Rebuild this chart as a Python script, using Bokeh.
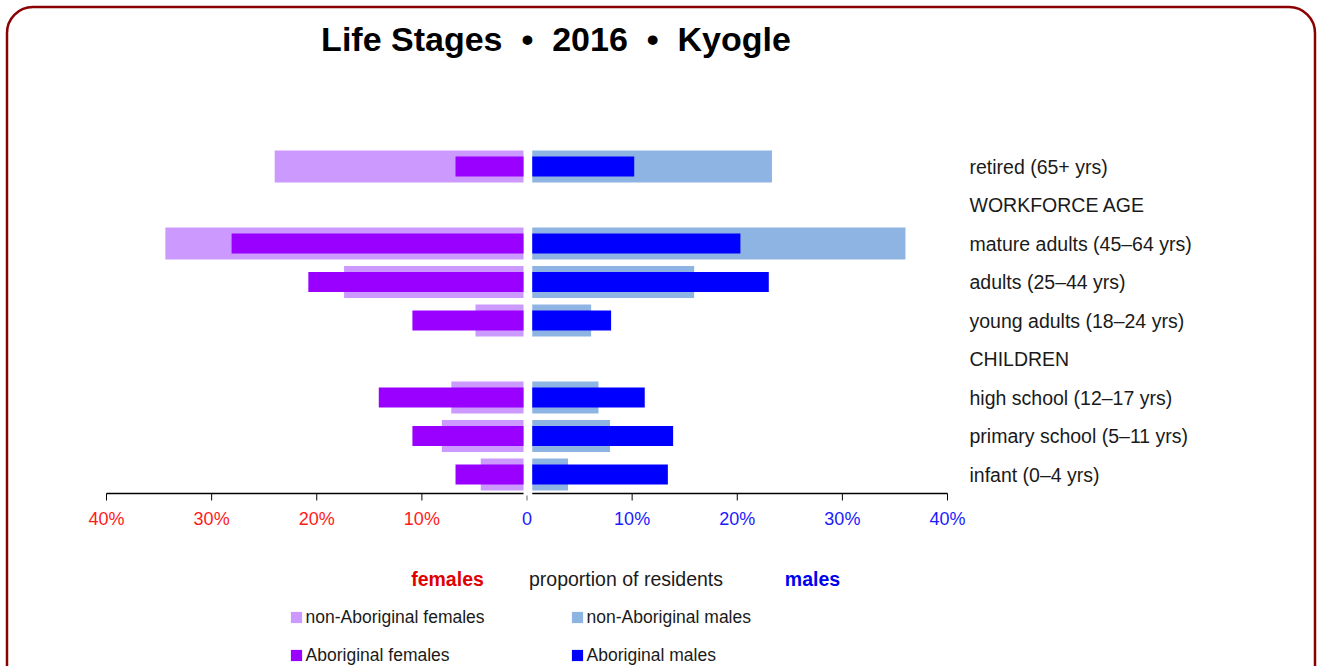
from bokeh.plotting import figure
from bokeh.models import ColumnDataSource, Range1d, Legend, LegendItem
from bokeh.core.properties import value
from bokeh.embed import file_html
from bokeh.resources import INLINE

# ---------------- data ----------------
categories = ["retired (65+ yrs)", "WORKFORCE AGE", "mature adults (45–64 yrs)",
              "adults (25–44 yrs)", "young adults (18–24 yrs)", "CHILDREN",
              "high school (12–17 yrs)", "primary school (5–11 yrs)", "infant (0–4 yrs)"]
nonab_females = [24.0, None, 34.4, 17.4, 4.9, None, 7.2, 8.1, 4.4]
ab_females    = [6.8, None, 28.1, 20.8, 10.9, None, 14.1, 10.9, 6.8]
nonab_males   = [23.3, None, 36.0, 15.9, 6.1, None, 6.8, 7.9, 3.9]
ab_males      = [10.2, None, 20.3, 23.0, 8.0, None, 11.2, 13.9, 13.4]
tick_values = [-40, -30, -20, -10, 0, 10, 20, 30, 40]
tick_labels = ["40%", "30%", "20%", "10%", "0", "10%", "20%", "30%", "40%"]
title_text = "Life Stages\u00a0 •\u00a0 2016\u00a0 •\u00a0 Kyogle"

FONT = "Liberation Sans"
C_NAF, C_AF, C_NAM, C_AM = "#CC99FF", "#9900FF", "#8DB4E2", "#0000FF"
GAP_F, GAP_M = 0.33, 0.5

# page-pixel layout helpers (canvas spans page x 0..W, y 0..H)
X0, SX = 526.5, 10.5125      # page x of 0 %, px per %
Y1, SY = 474.0, 38.5         # page y of lowest row, px per row
W, H = 1318, 666


def dx(px):
    return (px - X0) / SX


def dy(py):
    return 1 + (Y1 - py) / SY


n = len(categories)
rows = [n - i for i in range(n)]  # top row -> highest y

p = figure(width=W, height=H, output_backend="svg", toolbar_location=None,
           x_range=Range1d(dx(0), dx(W)), y_range=Range1d(dy(H), dy(0)),
           min_border=0, min_border_left=0, min_border_right=0,
           min_border_top=0, min_border_bottom=0)
p.axis.visible = False
p.xgrid.visible = False
p.ygrid.visible = False
p.outline_line_color = None
p.background_fill_color = "white"
p.border_fill_color = "white"

# rounded frame around the whole chart (bottom edge runs off the page)
p.quad(left=[dx(6.5)], right=[dx(1314.5)], top=[dy(6.5)], bottom=[dy(720)],
       fill_color=None, line_color="#8B0000", line_width=2.5, border_radius=26)


def src(vals, female):
    ys, l, r = [], [], []
    for y, v in zip(rows, vals):
        if v is None:
            continue
        ys.append(y)
        if female:
            l.append(-v); r.append(-GAP_F)
        else:
            l.append(GAP_M); r.append(v)
    return ColumnDataSource(dict(y=ys, left=l, right=r))


r_naf = p.hbar(y="y", left="left", right="right", height=0.83, source=src(nonab_females, True),
               fill_color=C_NAF, line_color=None)
r_nam = p.hbar(y="y", left="left", right="right", height=0.83, source=src(nonab_males, False),
               fill_color=C_NAM, line_color=None)
r_af = p.hbar(y="y", left="left", right="right", height=0.52, source=src(ab_females, True),
              fill_color=C_AF, line_color=None)
r_am = p.hbar(y="y", left="left", right="right", height=0.52, source=src(ab_males, False),
              fill_color=C_AM, line_color=None)

# x axis: two lines with a gap at zero, ticks, coloured labels
axis_y = dy(493)
p.segment(x0=[-40, GAP_M], x1=[-GAP_F, 40], y0=[axis_y, axis_y], y1=[axis_y, axis_y],
          line_color="black", line_width=1.3)
nz = [v for v in tick_values if v != 0]
p.segment(x0=nz, x1=nz, y0=[axis_y] * len(nz), y1=[dy(500)] * len(nz),
          line_color="black", line_width=1)
p.segment(x0=[0], x1=[0], y0=[dy(495)], y1=[dy(500)], line_color="#666666", line_width=1)
p.text(x=tick_values, y=[dy(518)] * len(tick_values), text=tick_labels,
       text_color=["#FF1A1A" if v < 0 else "#1A1AFF" for v in tick_values],
       text_align="center", text_baseline="middle",
       text_font=value(FONT), text_font_size=value("18px"))

# stage labels on the right
p.text(x=[dx(969)] * n, y=rows, text=categories, text_align="left", text_baseline="middle",
       text_font=value(FONT), text_font_size=value("19.5px"), text_color="#1a1a1a")

# title
p.text(x=[dx(555.5)], y=[dy(38)], text=[title_text], text_align="center",
       text_baseline="middle", text_font=value(FONT), text_font_size=value("34px"),
       text_font_style="bold", text_color="black")

# axis caption
p.text(x=[dx(447)], y=[dy(578)], text=["females"], text_align="center",
       text_baseline="middle", text_font=value(FONT), text_font_size=value("19.5px"),
       text_font_style="bold", text_color="#E00000")
p.text(x=[dx(625.5)], y=[dy(578)], text=["proportion of residents"], text_align="center",
       text_baseline="middle", text_font=value(FONT), text_font_size=value("19.5px"),
       text_color="#1a1a1a")
p.text(x=[dx(812)], y=[dy(578)], text=["males"], text_align="center",
       text_baseline="middle", text_font=value(FONT), text_font_size=value("19.5px"),
       text_font_style="bold", text_color="#0000EE")

legend = Legend(items=[
    LegendItem(label="non-Aboriginal females", renderers=[r_naf]),
    LegendItem(label="Aboriginal females", renderers=[r_af]),
    LegendItem(label="non-Aboriginal males", renderers=[r_nam]),
    LegendItem(label="Aboriginal males", renderers=[r_am]),
], location=(288.6, H - 665.5), ncols=2, orientation="vertical",
    glyph_width=14, glyph_height=14, label_standoff=3, label_width=247,
    label_height=19, spacing=17, padding=0, margin=0,
    border_line_color=None, background_fill_alpha=0,
    label_text_font=FONT, label_text_font_size="17.5px", label_text_color="#1a1a1a")
p.add_layout(legend, "center")

open("out.html", "w").write(file_html(p, INLINE))
